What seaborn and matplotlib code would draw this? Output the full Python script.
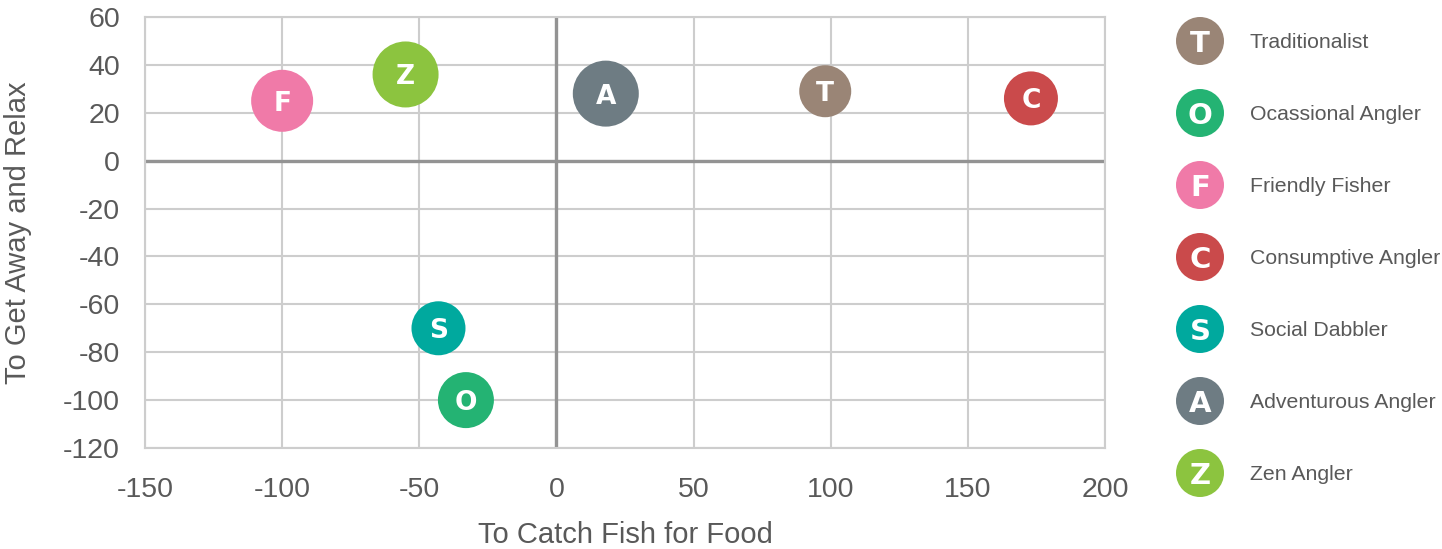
import matplotlib
matplotlib.use("Agg")
import matplotlib.pyplot as plt
import seaborn as sns
import pandas as pd

# Angler segments: motivation scores
segments = ["Traditionalist", "Ocassional Angler", "Friendly Fisher", "Consumptive Angler",
            "Social Dabbler", "Adventurous Angler", "Zen Angler"]
letters = ["T", "O", "F", "C", "S", "A", "Z"]
catch_for_food = [98, -33, -100, 173, -43, 18, -55]
get_away_relax = [29, -100, 25, 26, -70, 28, 36]

# Styling
colors = ["#9a8576", "#24b373", "#f07aa8", "#ca4a4b", "#00a99e", "#6e7c83", "#8cc43f"]
bubble_px = [52, 56, 62, 54, 54, 66, 66]   # bubble diameters in pixels
x_ticks = [-150, -100, -50, 0, 50, 100, 150, 200]
y_ticks = [-120, -100, -80, -60, -40, -20, 0, 20, 40, 60]

sns.set_theme(style="white")
plt.rcParams["font.family"] = ["Liberation Sans", "DejaVu Sans"]

DPI = 100
W, H = 1442, 549
fig = plt.figure(figsize=(W / DPI, H / DPI), dpi=DPI)
ax = fig.add_axes([145 / W, 1 - 448 / H, 960 / W, 431 / H])

df = pd.DataFrame({"segment": segments, "letter": letters,
                   "x": catch_for_food, "y": get_away_relax})
px2pt = 72 / DPI
sizes = {s: (d * px2pt) ** 2 for s, d in zip(segments, bubble_px)}
palette = dict(zip(segments, colors))

grid_c = "#cdcdcd"
zero_c = "#939393"
ax.set_xlim(-150, 200)
ax.set_ylim(-120, 60)
ax.set_xticks(x_ticks)
ax.set_yticks(y_ticks)
ax.grid(True, color=grid_c, linewidth=1.5, zorder=0)
ax.set_axisbelow(True)
for sp in ax.spines.values():
    sp.set_color(grid_c)
    sp.set_linewidth(1.5)
ax.axvline(0, color=zero_c, linewidth=2.4, zorder=1)
ax.axhline(0, color=zero_c, linewidth=2.4, zorder=1)

sns.scatterplot(data=df, x="x", y="y", hue="segment", palette=palette,
                size="segment", sizes=sizes, legend=False, linewidth=0,
                alpha=1, ax=ax, zorder=3)
for _, r in df.iterrows():
    ax.text(r["x"], r["y"], r["letter"], color="white", fontsize=19,
            fontweight="heavy", ha="center", va="center_baseline",
            family=["DejaVu Sans"], zorder=4)

tick_c = "#595959"
ax.tick_params(axis="both", length=0, labelsize=20.5, labelcolor=tick_c)
ax.tick_params(axis="x", pad=21)
ax.tick_params(axis="y", pad=18)
ax.set_xticklabels([str(v) for v in x_ticks])
ax.set_yticklabels([str(v) for v in y_ticks])
ax.set_xlabel("To Catch Fish for Food", fontsize=21, color=tick_c, labelpad=13)
ax.set_ylabel("To Get Away and Relax", fontsize=21, color=tick_c, labelpad=22)

# Custom legend with lettered bubbles
lax = fig.add_axes([1160 / W, 0, (W - 1160) / W, 1])
lax.set_xlim(0, W - 1160)
lax.set_ylim(H, 0)
lax.axis("off")
row_gap = 72
first_row = 41
leg = pd.DataFrame({"segment": segments, "letter": letters,
                    "lx": [40] * len(segments),
                    "ly": [first_row + i * row_gap for i in range(len(segments))]})
sns.scatterplot(data=leg, x="lx", y="ly", hue="segment", palette=palette,
                s=(48 * px2pt) ** 2, linewidth=0, legend=False, ax=lax)
for _, r in leg.iterrows():
    lax.text(r["lx"], r["ly"], r["letter"], color="white", fontsize=21,
             fontweight="heavy", ha="center", va="center_baseline",
             family=["DejaVu Sans"])
    lax.text(r["lx"] + 50, r["ly"], r["segment"], color=tick_c, fontsize=15.3,
             ha="left", va="center_baseline")
lax.set_xlabel("")
lax.set_ylabel("")

fig.savefig("out.png", dpi=DPI)
